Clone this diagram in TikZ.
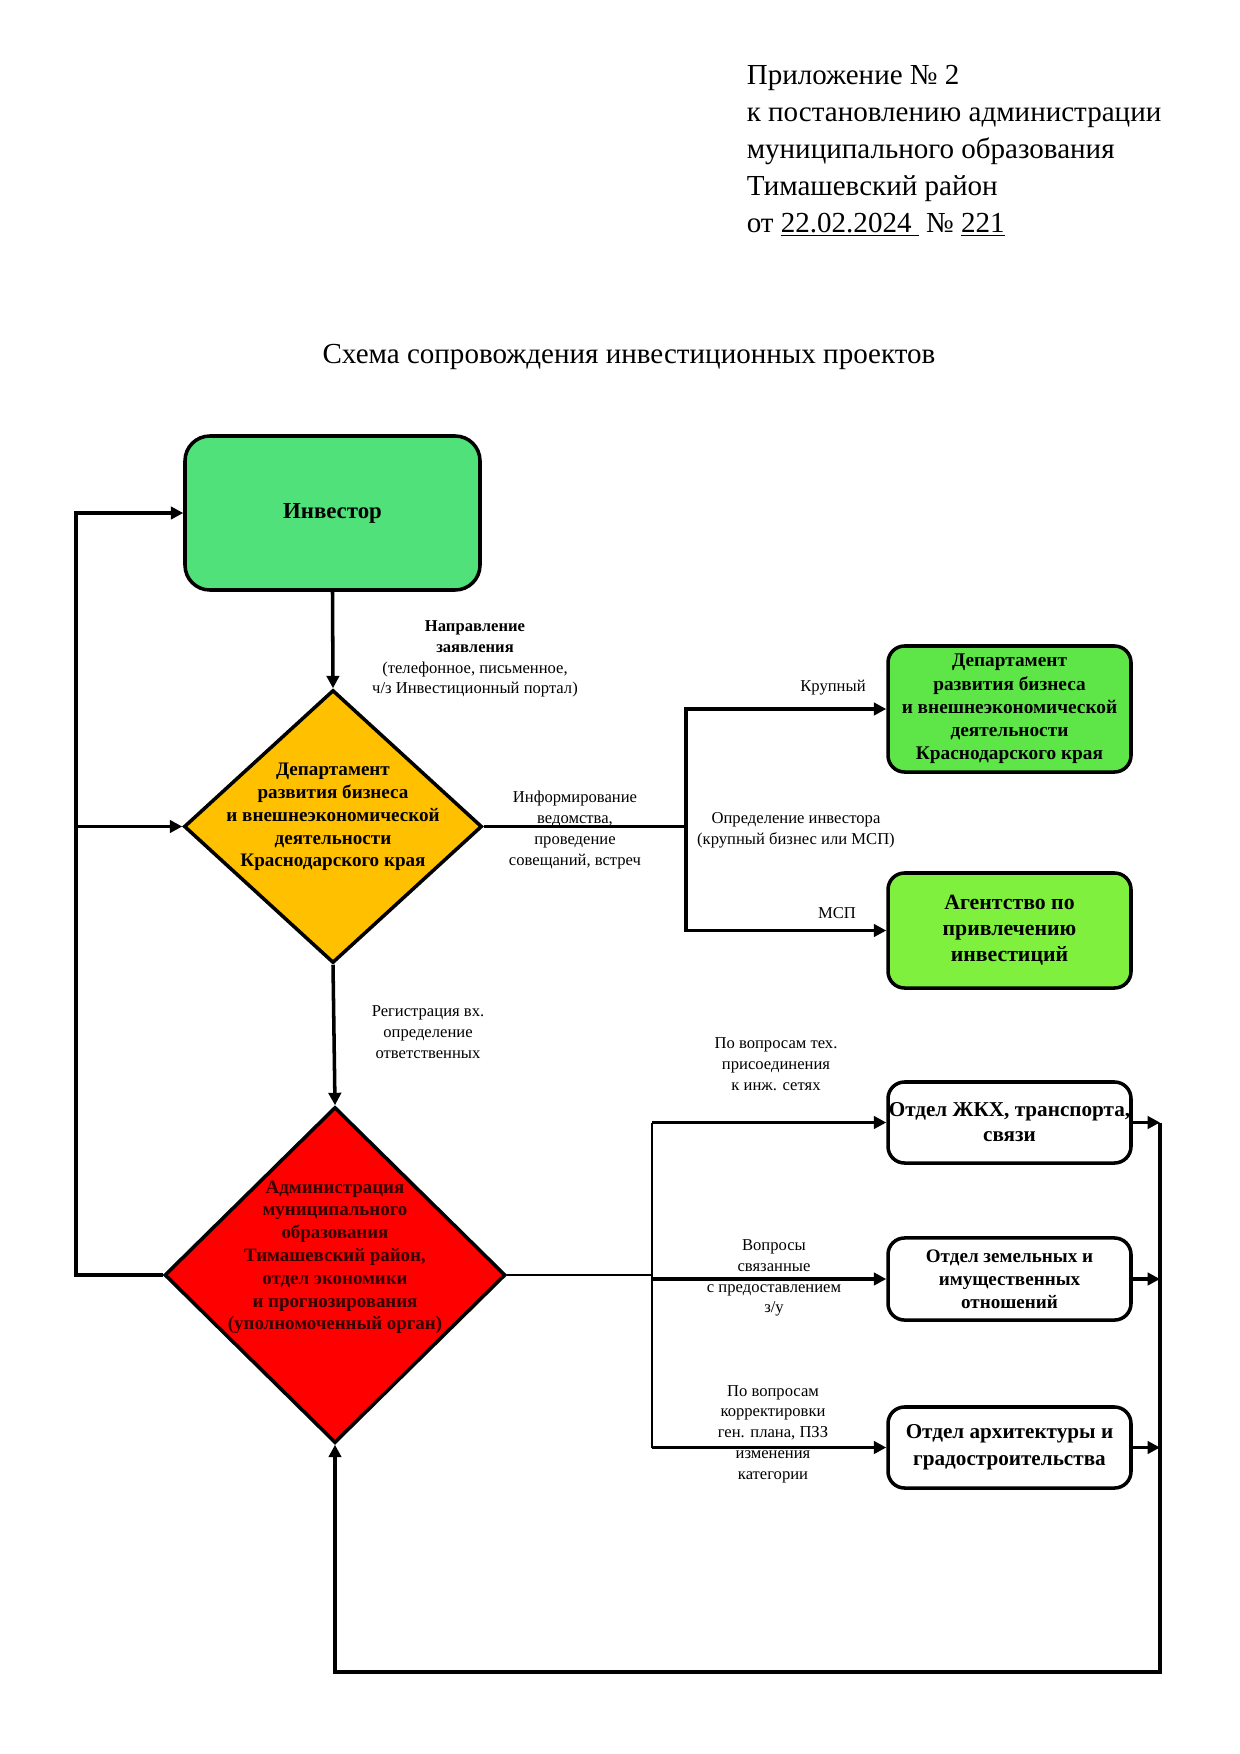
\documentclass[tikz,border=0pt]{standalone}
\usepackage{fontspec}
\setmainfont{Liberation Serif}
\usetikzlibrary{arrows.meta,shapes.geometric}
\definecolor{invgreen}{RGB}{80,225,122}
\definecolor{depgold}{RGB}{255,192,0}
\definecolor{depgreen}{RGB}{94,230,72}
\definecolor{agngreen}{RGB}{128,240,62}
\definecolor{admred}{RGB}{255,0,0}
\definecolor{admtext}{RGB}{50,0,0}
\begin{document}
\begin{tikzpicture}[x=0.169355mm,y=-0.169355mm,line width=1.7pt,>={Triangle[length=6pt,width=6pt]},
	every node/.style={align=center,inner sep=0,font=\fontsize{8}{10}\selectfont},
	box/.style={draw,rounded corners=2.8mm,minimum width=41.15mm},
	dia/.style={draw,diamond,inner sep=0},
	btxt/.style 2 args={font=\bfseries\fontsize{#1}{#2}\selectfont}]
	\useasboundingbox(0,0)rectangle(1240,1754);
	\node[anchor=west,align=left,font=\fontsize{14}{17.8}\selectfont](hdr)at(745,151){Приложение № 2\\к постановлению администрации\\муниципального образования\\Тимашевский район\\от \underline{22.02.2024\ } № \underline{221}};
	\node[font=\fontsize{14}{17}\selectfont](ttl)at(629,357){Схема сопровождения инвестиционных проектов};
	\node[box,fill=invgreen,rounded corners=4.2mm,minimum width=49.96mm,minimum height=26.08mm,btxt={11}{13}](inv)at(332.5,513){Инвестор};
	\node[dia,fill=depgold,minimum width=50.47mm,minimum height=46.23mm,label={[btxt={9.2}{11},yshift=1.6mm]center:{Департамент\\развития бизнеса\\и внешнеэкономической\\деятельности\\Краснодарского края}}](dep)at(333,826.5){};
	\node[dia,fill=admred,minimum width=57.75mm,minimum height=56.9mm,label={[btxt={9.1}{11},text=admtext,yshift=3mm]center:{Администрация\\муниципального\\образования\\Тимашевский район,\\отдел экономики\\и прогнозирования\\(уполномоченный орган)}}](adm)at(335,1275){};
	\node[box,fill=depgreen,minimum height=21.34mm,btxt={9.3}{11.2}](dbig)at(1009.5,709){Департамент\\развития бизнеса\\и внешнеэкономической\\деятельности\\Краснодарского края};
	\node[box,fill=agngreen,minimum height=19.48mm,btxt={10.5}{12.5}](agn)at(1009.5,930.5){Агентство по\\привлечению\\инвестиций};
	\node[box,minimum height=13.72mm,btxt={10.2}{12}](zhkh)at(1009.5,1122.5){Отдел ЖКХ, транспорта,\\связи};
	\node[box,minimum height=13.9mm,btxt={9.2}{11}](zem)at(1009.5,1279){Отдел земельных и\\имущественных\\отношений};
	\node[box,minimum height=13.72mm,btxt={10.2}{13}](arch)at(1009.5,1447.5){Отдел архитектуры и\\градостроительства};
	\node(lapp)at(475,659){\textbf{Направление}\\\textbf{заявления}\\(телефонное, письменное,\\ч/з Инвестиционный портал)};
	\node(linf)at(575,830){Информирование\\ведомства,\\проведение\\совещаний, встреч};
	\node(lbig)at(833,688){Крупный};
	\node(ldef)at(796,830){Определение инвестора\\(крупный бизнес или МСП)};
	\node(lmsp)at(837,913){МСП};
	\node(lreg)at(428,1032){Регистрация вх.\\определение\\ответственных};
	\node(ltech)at(776,1064){По вопросам тех.\\присоединения\\к инж. сетях};
	\node(lland)at(774,1278){Вопросы\\связанные\\с предоставлением\\з/у};
	\node(lplan)at(773,1434){По вопросам\\корректировки\\ген. плана, ПЗЗ\\изменения\\категории};
	\coordinate(L)at(76,0);
	\coordinate(T)at(686,0);
	\coordinate(M)at(652,0);
	\coordinate(R)at(1160,0);
	\coordinate(B)at(0,1672);
	\draw[->](inv.south)--(dep.north);
	\draw[->](dep.south)--(adm.north);
	\draw[->](adm.west)-|(L|-inv.west)--(inv.west);
	\draw[->](L|-dep.west)--(dep.west);
	\draw(dep.east)--(dep.east-|T);
	\foreach\b in{dbig,agn}{\draw[->](dep.east-|T)|-(\b.west);}
	\draw[line width=1.3pt](adm.east)--(adm.east-|M);
	\draw[line width=1.3pt](M|-zhkh.west)--(M|-arch.west);
	\foreach\b in{zhkh,zem,arch}{\draw[->](M|-\b.west)--(\b.west);\draw[->](\b.east)--(R|-\b.east);}
	\draw[->](R|-zhkh.east)|-(B-|adm.south)--(adm.south);
\end{tikzpicture}
\end{document}
